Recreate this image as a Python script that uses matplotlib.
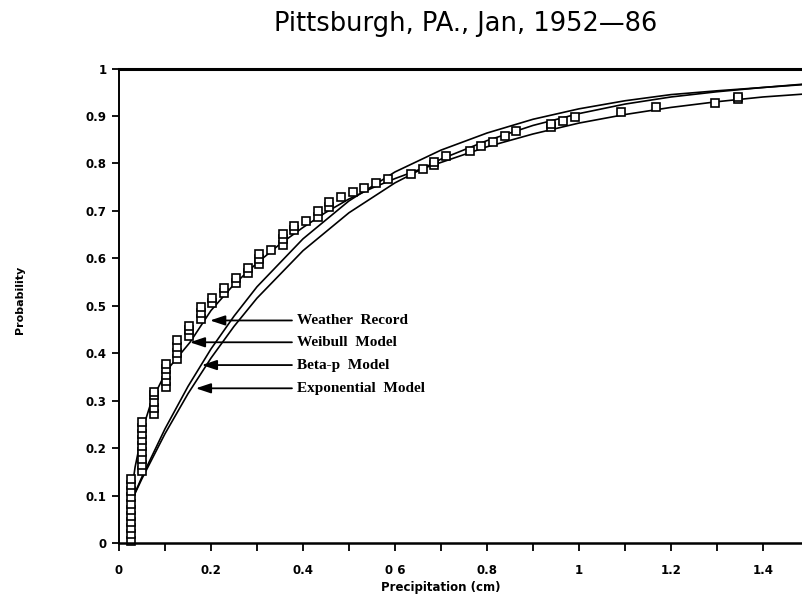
import matplotlib
matplotlib.use("Agg")
import matplotlib.pyplot as plt

# ---- data ----
obs_x = [0.0254]*11 + [0.0508]*9 + [0.0762]*5 + [0.1016]*5 + [0.127]*4 + [0.1524]*3 + [0.1778]*3 + \
        [0.2032]*2 + [0.2286]*2 + [0.254]*2 + [0.2794]*2 + [0.3048]*3 + [0.3302] + [0.3556]*3 + \
        [0.381]*2 + [0.4064] + [0.4318]*2 + [0.4572]*2 + [0.4826, 0.508, 0.5334, 0.5588, 0.5842, 0.635, 0.6604] + \
        [0.6858]*2 + [0.7112, 0.762, 0.7874, 0.8128, 0.8382, 0.8636] + [0.9398]*2 + \
        [0.9652, 0.9906, 1.0922, 1.1684, 1.2954] + [1.346]*2
obs_y = [0.005, 0.018, 0.031, 0.044, 0.057, 0.070, 0.083, 0.096, 0.109, 0.122, 0.135,
         0.152, 0.165, 0.178, 0.191, 0.204, 0.217, 0.230, 0.243, 0.256,
         0.272, 0.285, 0.298, 0.311, 0.318,
         0.328, 0.341, 0.354, 0.367, 0.378,
         0.388, 0.401, 0.414, 0.427,
         0.437, 0.448, 0.458,
         0.472, 0.484, 0.498,
         0.505, 0.516, 0.527, 0.538, 0.548, 0.558, 0.568, 0.580,
         0.588, 0.599, 0.610, 0.618, 0.628, 0.640, 0.652,
         0.660, 0.669, 0.678, 0.688, 0.699, 0.708, 0.719,
         0.729, 0.739, 0.749, 0.759, 0.768, 0.778, 0.789,
         0.797, 0.803, 0.815, 0.827, 0.836, 0.846, 0.857, 0.868,
         0.876, 0.882, 0.889, 0.898, 0.908, 0.919, 0.927, 0.935, 0.940]

weib_x = [0.0254, 0.035, 0.053, 0.071, 0.104, 0.154, 0.2, 0.25, 0.3, 0.35, 0.4, 0.45, 0.5, 0.55,
          0.6, 0.65, 0.7, 0.8, 0.9, 1.0, 1.1, 1.2, 1.3, 1.4, 1.487]
weib_y = [0.095, 0.16, 0.245, 0.30, 0.364, 0.4225, 0.49, 0.545, 0.59, 0.63, 0.665, 0.697, 0.725, 0.748,
          0.768, 0.786, 0.802, 0.835, 0.862, 0.885, 0.903, 0.918, 0.930, 0.940, 0.946]

beta_x = [0.0254, 0.05, 0.1, 0.15, 0.2, 0.25, 0.3, 0.4, 0.5, 0.6, 0.7, 0.8, 0.9, 1.0, 1.1, 1.2, 1.3, 1.4, 1.487]
beta_y = [0.085, 0.1395, 0.2406, 0.330, 0.409, 0.478, 0.540, 0.641, 0.721, 0.782, 0.828, 0.864, 0.893,
          0.915, 0.932, 0.945, 0.953, 0.960, 0.967]

expo_x = [0.0254, 0.05, 0.1, 0.15, 0.2, 0.25, 0.3, 0.4, 0.5, 0.6, 0.7, 0.8, 0.9, 1.0, 1.1, 1.2, 1.3, 1.4, 1.487]
expo_y = [0.085, 0.1357, 0.2303, 0.3147, 0.3897, 0.4565, 0.516, 0.616, 0.696, 0.759, 0.809, 0.848,
          0.880, 0.905, 0.925, 0.940, 0.951, 0.960, 0.966]

labels = ["Weather  Record", "Weibull  Model", "Beta-p  Model", "Exponential  Model"]
label_y = [0.469, 0.423, 0.375, 0.326]
tip_x = [0.198, 0.154, 0.180, 0.167]

xticks = [0, 0.2, 0.4, 0.6, 0.8, 1.0, 1.2, 1.4]
xticklabels = ["0", "0.2", "0.4", "0 6", "0.8", "1", "1.2", "1.4"]
yticks = [0, 0.1, 0.2, 0.3, 0.4, 0.5, 0.6, 0.7, 0.8, 0.9, 1.0]
yticklabels = ["0", "0.1", "0.2", "0.3", "0.4", "0.5", "0.6", "0.7", "0.8", "0.9", "1"]

# ---- figure ----
fig = plt.figure(figsize=(8.03, 6.07), dpi=100)
ax = fig.add_axes([119/803, 64/607, 684/803, 474.5/607])

ax.plot(weib_x, weib_y, color="black", lw=1.2)
ax.plot(beta_x, beta_y, color="black", lw=1.2)
ax.plot(expo_x, expo_y, color="black", lw=1.2)
ax.plot(obs_x, obs_y, linestyle="none", marker="s", markersize=5.8,
        markerfacecolor="white", markeredgecolor="black", markeredgewidth=1.2, clip_on=False)

ax.set_xlim(0, 1.487)
ax.set_ylim(0, 1)

for lab, ly, tx in zip(labels, label_y, tip_x):
    ax.annotate("", xy=(tx, ly), xytext=(0.376, ly),
                arrowprops=dict(arrowstyle="-|>,head_length=0.9,head_width=0.3",
                                color="black", lw=1.3, shrinkA=0, shrinkB=0))
    ax.text(0.387, ly, lab, family="Liberation Serif", fontweight="bold", fontsize=11,
            ha="left", va="center")

ax.spines["right"].set_visible(False)
ax.spines["top"].set_linewidth(2.2)
ax.spines["bottom"].set_linewidth(1.8)
ax.spines["left"].set_linewidth(1.4)

ax.set_xticks(xticks)
ax.set_xticklabels(xticklabels, fontweight="bold", fontsize=8.5)
ax.set_xticks([0.1, 0.3, 0.5, 0.7, 0.9, 1.1, 1.3], minor=True)
ax.set_yticks(yticks)
ax.set_yticklabels(yticklabels, fontweight="bold", fontsize=8.5)
ax.tick_params(axis="x", which="both", direction="out", length=6, width=1.3, pad=9)
ax.tick_params(axis="y", which="both", direction="out", length=5, width=1.3, pad=4)

ax.set_xlabel("Precipitation (cm)", fontweight="bold", fontsize=8.5)
ax.xaxis.set_label_coords((441-119)/684, -(581-543)/474.5)
ax.set_ylabel("Probability", fontweight="bold", fontsize=8)
ax.yaxis.set_label_coords(-(119-25)/684, (543-300)/474.5)

fig.text(466/803, 1 - 24/607, "Pittsburgh, PA., Jan, 1952\u201486", fontsize=18.5,
         ha="center", va="center", family="DejaVu Sans", fontweight="normal", color="black")

fig.savefig("out.png", dpi=100)
